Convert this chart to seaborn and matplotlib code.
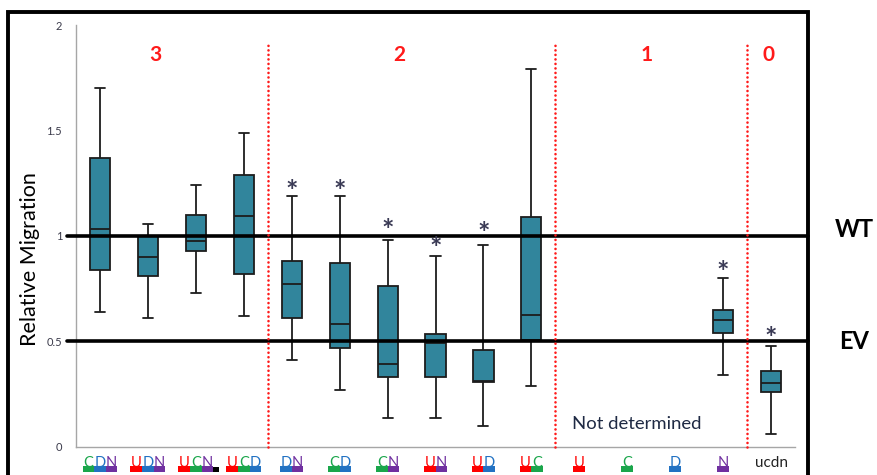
import numpy as np
import pandas as pd
import matplotlib
matplotlib.use("Agg")
import matplotlib.pyplot as plt
import matplotlib.patches as mpatches
import matplotlib.transforms as mtransforms
import seaborn as sns

nan = np.nan

# ---------------- data ----------------
categories = ["CDN", "UDN", "UCN", "UCD", "DN", "CD", "CN", "UN", "UD", "UC",
              "U", "C", "D", "N", "ucdn"]
whisker_low = [0.64, 0.61, 0.73, 0.62, 0.41, 0.27, 0.135, 0.135, 0.10, 0.29,
               nan, nan, nan, 0.34, 0.06]
q1 = [0.84, 0.81, 0.93, 0.82, 0.61, 0.47, 0.33, 0.33, 0.305, 0.505,
      nan, nan, nan, 0.54, 0.26]
median = [1.035, 0.90, 0.975, 1.095, 0.77, 0.58, 0.39, 0.49, 0.31, 0.625,
          nan, nan, nan, 0.60, 0.30]
q3 = [1.37, 1.00, 1.10, 1.29, 0.88, 0.87, 0.76, 0.535, 0.46, 1.09,
      nan, nan, nan, 0.65, 0.36]
whisker_high = [1.70, 1.055, 1.24, 1.49, 1.19, 1.19, 0.98, 0.905, 0.955, 1.79,
                nan, nan, nan, 0.80, 0.48]
star_y = [nan, nan, nan, nan, 1.25, 1.25, 1.065, 0.975, 1.05, nan,
          nan, nan, nan, 0.865, 0.55]
group_labels = ["3", "2", "1", "0"]
group_label_x = [1.15, 6.25, 11.4, 13.95]
group_dividers = [3.5, 9.5, 13.5]
ref_lines = {"WT": 1.0, "EV": 0.5}
y_ticks = [0, 0.5, 1, 1.5, 2]
y_tick_labels = ["0", "0.5", "1", "1.5", "2"]
letter_colors = {"U": "#FF0000", "C": "#1AA64B", "D": "#2272C3", "N": "#7030A0"}

# build long table: 5 values per category reproduce the summary exactly
rows = []
for i, cat in enumerate(categories):
    vals = [whisker_low[i], q1[i], median[i], q3[i], whisker_high[i]]
    if np.isnan(vals[0]):
        continue
    for v in vals:
        rows.append({"label": cat, "value": v})
df = pd.DataFrame(rows)

# ---------------- plot ----------------
sns.set_style("white")
plt.rcParams["font.family"] = ["Lato", "DejaVu Sans"]

fig = plt.figure(figsize=(8.77, 4.75), dpi=100)
ax = fig.add_axes([0.0867, 0.0596, 0.8198, 0.8876])

sns.boxplot(data=df, x="label", y="value", order=categories, ax=ax,
            color="#31859C", saturation=1, width=0.42, linecolor="#1c1c1c",
            linewidth=1.3, whis=(0, 100), fliersize=0)

ax.set_xlim(-0.5, len(categories) - 0.5)
ax.set_ylim(0, 2)
ax.set_xlabel("")
ax.set_ylabel("")

for s in ["top", "right"]:
    ax.spines[s].set_visible(False)
for s in ["left", "bottom"]:
    ax.spines[s].set_color("#A6A6A6")
    ax.spines[s].set_linewidth(1.0)

ax.set_yticks(y_ticks)
ax.set_yticklabels(y_tick_labels, fontsize=8, color="#3a3a4a")
ax.set_xticks(np.arange(-0.5, len(categories)), labels=[""] * (len(categories) + 1))
ax.tick_params(axis="both", direction="out", length=4, color="#A6A6A6", width=1)
ax.tick_params(axis="y", pad=6)

# reference lines (WT / EV)
tr_fig_data = mtransforms.blended_transform_factory(fig.transFigure, ax.transData)
for name, yv in ref_lines.items():
    ax.axhline(yv, xmin=-0.013, xmax=1.018, color="black", lw=2.6,
               clip_on=False, zorder=4)
    ax.text(0.974, yv + (0.03 if name == "WT" else 0.0), name,
            transform=tr_fig_data, ha="center", va="center",
            fontsize=17, fontweight="bold", color="black")

# group dividers
for xv in group_dividers:
    ax.plot([xv, xv], [0, 1.91], color="#FF1A1A", lw=1.9,
            linestyle=(0, (0.01, 1.7)), dash_capstyle="round", zorder=5,
            clip_on=False)

# group labels
for lab, xv in zip(group_labels, group_label_x):
    ax.text(xv, 1.86, lab, ha="center", va="center", fontsize=15,
            fontweight="bold", color="#FF1A1A")

# significance stars
star_tr = mtransforms.offset_copy(ax.transData, fig=fig, x=0, y=-6,
                                  units="points")
for i, yv in enumerate(star_y):
    if not np.isnan(yv):
        ax.text(i, yv, "*", transform=star_tr, ha="center", va="center",
                fontsize=21, fontweight="bold", color="#3a3a55", zorder=6)

# not determined
ax.text(11.2, 0.108, "Not determined", ha="center", va="center",
        fontsize=13.3, color="#1f2a44")

# colored x tick labels
trans = ax.get_xaxis_transform()
step = 0.243
for i, lab in enumerate(categories):
    if lab.islower():
        ax.text(i, -0.038, lab, transform=trans, ha="center", va="center",
                fontsize=11, color="#222222", clip_on=False)
        continue
    n = len(lab)
    for k, ch in enumerate(lab):
        xc = i + (k - (n - 1) / 2) * step
        col = letter_colors[ch]
        ax.text(xc, -0.047, ch, transform=trans, ha="center", va="baseline",
                fontsize=10.5, color=col, clip_on=False)
        ax.add_patch(mpatches.Rectangle((xc - step / 2, -0.0605), step, 0.0145,
                                        transform=trans, color=col,
                                        clip_on=False, lw=0))
    if lab == "UCN":
        xe = i + ((n - 1) / 2) * step + step / 2
        ax.add_patch(mpatches.Rectangle((xe, -0.0605), 0.12, 0.0125,
                                        transform=trans, color="black",
                                        clip_on=False, lw=0))

# y label
fig.text(0.034, 0.455, "Relative Migration", rotation=90, ha="center",
         va="center", fontsize=15.5, color="black")

# outer frame
frame = mpatches.Rectangle((0.0095, -0.1), 0.9115, 1.0745,
                           transform=fig.transFigure, fill=False,
                           edgecolor="black", lw=2.8, clip_on=False)
fig.add_artist(frame)

fig.savefig("out.png", dpi=100)
